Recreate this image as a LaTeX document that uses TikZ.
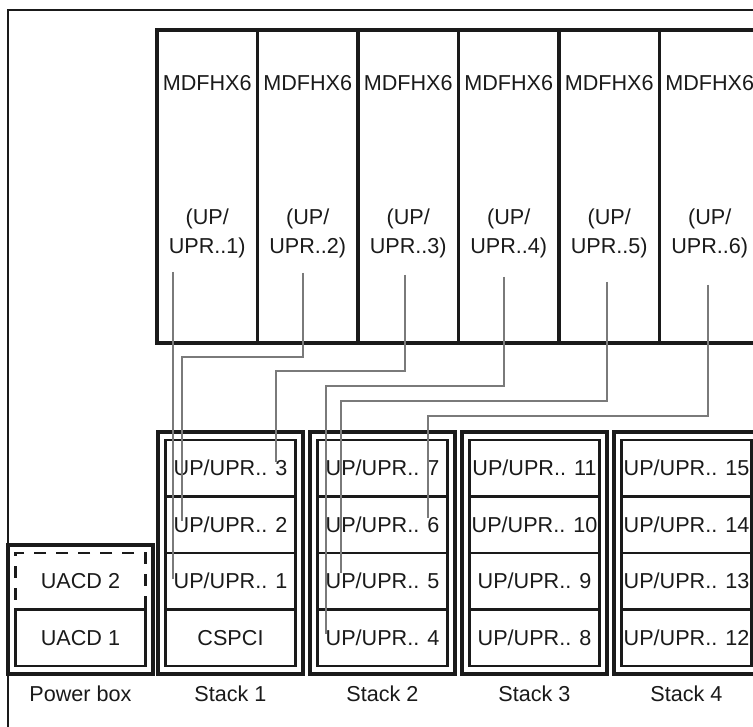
\documentclass[tikz,border=0pt]{standalone}
\usepackage{fontspec}
\setmainfont{Liberation Sans}
\usetikzlibrary{positioning}
\definecolor{ink}{HTML}{1A1A1A}
\definecolor{wire}{HTML}{7A7A7A}

\begin{document}
\begin{tikzpicture}[x=0.75pt, y=-0.75pt,
    every node/.style={font=\fontsize{16.2}{18}\selectfont, text=ink, align=center, inner sep=0pt},
    frame/.style={draw=ink, line width=1.6pt},
    mdcol/.style={draw=ink, line width=2.6pt, minimum width=75.4pt, minimum height=234.8pt},
    mdlbl/.style={font=\fontsize{16.2}{21.75}\selectfont},
    rack/.style={draw=ink, line width=2.7pt, minimum width=108.75pt},
    cell/.style={draw=ink, line width=1.7pt, minimum width=97.5pt, minimum height=42.4pt},
    spare/.style={cell, dash pattern=on 9pt off 7.5pt},
    wire/.style={draw=wire, line width=1pt}
  ]

  % ---- cadre general (coupe a droite et en bas) ----
  \path[use as bounding box, clip] (0,0) rectangle (753,727);
  \fill[white] (0,0) rectangle (753,727);
  \draw[frame] (8,10) rectangle (790,760);

  % ---- baie MDFHX6 ----
  \node[mdcol] (md1) at (207.25,186.5) {};
  \node[mdcol] (md2) at (307.75,186.5) {};
  \node[mdcol] (md3) at (408.25,186.5) {};
  \node[mdcol] (md4) at (508.75,186.5) {};
  \node[mdcol] (md5) at (609.25,186.5) {};
  \node[mdcol] (md6) at (709.75,186.5) {};

  \node (mdt1) at (207.25,83) {MDFHX6};
  \node (mdt2) at (307.75,83) {MDFHX6};
  \node (mdt3) at (408.25,83) {MDFHX6};
  \node (mdt4) at (508.75,83) {MDFHX6};
  \node (mdt5) at (609.25,83) {MDFHX6};
  \node (mdt6) at (709.75,83) {MDFHX6};

  \node[mdlbl] (mdu1) at (207.25,233) {(UP/\\UPR..1)};
  \node[mdlbl] (mdu2) at (307.75,233) {(UP/\\UPR..2)};
  \node[mdlbl] (mdu3) at (408.25,233) {(UP/\\UPR..3)};
  \node[mdlbl] (mdu4) at (508.75,233) {(UP/\\UPR..4)};
  \node[mdlbl] (mdu5) at (609.25,233) {(UP/\\UPR..5)};
  \node[mdlbl] (mdu6) at (709.75,233) {(UP/\\UPR..6)};

  % ---- boitier d'alimentation ----
  \node[rack, minimum height=96.75pt] (pbox) at (80.5,609.5) {};
  \node[spare] (uacd2) at (80.5,581.25) {UACD 2};
  \node[cell]  (uacd1) at (80.5,637.75) {UACD 1};

  % ---- piles de cartes ----
  \node[rack, minimum height=181.5pt] (stack1) at (230.5,553) {};
  \node[cell] (s1d) at (230.5,468.25) {UP/UPR.. 3};
  \node[cell] (s1c) at (230.5,524.75) {UP/UPR.. 2};
  \node[cell] (s1b) at (230.5,581.25) {UP/UPR.. 1};
  \node[cell] (s1a) at (230.5,637.75) {CSPCI};

  \node[rack, minimum height=181.5pt] (stack2) at (382.5,553) {};
  \node[cell] (s2d) at (382.5,468.25) {UP/UPR.. 7};
  \node[cell] (s2c) at (382.5,524.75) {UP/UPR.. 6};
  \node[cell] (s2b) at (382.5,581.25) {UP/UPR.. 5};
  \node[cell] (s2a) at (382.5,637.75) {UP/UPR.. 4};

  \node[rack, minimum height=181.5pt] (stack3) at (534.5,553) {};
  \node[cell] (s3d) at (534.5,468.25) {UP/UPR.. 11};
  \node[cell] (s3c) at (534.5,524.75) {UP/UPR.. 10};
  \node[cell] (s3b) at (534.5,581.25) {UP/UPR.. 9};
  \node[cell] (s3a) at (534.5,637.75) {UP/UPR.. 8};

  \node[rack, minimum height=181.5pt] (stack4) at (686.5,553) {};
  \node[cell] (s4d) at (686.5,468.25) {UP/UPR.. 15};
  \node[cell] (s4c) at (686.5,524.75) {UP/UPR.. 14};
  \node[cell] (s4b) at (686.5,581.25) {UP/UPR.. 13};
  \node[cell] (s4a) at (686.5,637.75) {UP/UPR.. 12};

  \node[below=7pt of pbox]   (pboxlbl) {Power box};
  \node[below=7pt of stack1] (st1lbl)  {Stack 1};
  \node[below=7pt of stack2] (st2lbl)  {Stack 2};
  \node[below=7pt of stack3] (st3lbl)  {Stack 3};
  \node[below=7pt of stack4] (st4lbl)  {Stack 4};

  % ---- cablage UP/UPR vers les cartes ----
  \coordinate (u1) at (173,272); \coordinate (d1) at (173,579);
  \coordinate (u2) at (303,273); \coordinate (d2) at (182,521);
  \coordinate (u3) at (405,275); \coordinate (d3) at (276,462);
  \coordinate (u4) at (504,277); \coordinate (d4) at (326,634);
  \coordinate (u5) at (607,282); \coordinate (d5) at (341,573);
  \coordinate (u6) at (708,285); \coordinate (d6) at (428,518);

  \draw[wire] (u1) -- (d1);
  \draw[wire] (u2) -- ++(0,84)  -| (d2);
  \draw[wire] (u3) -- ++(0,96)  -| (d3);
  \draw[wire] (u4) -- ++(0,109) -| (d4);
  \draw[wire] (u5) -- ++(0,119) -| (d5);
  \draw[wire] (u6) -- ++(0,131) -| (d6);

\end{tikzpicture}
\end{document}
